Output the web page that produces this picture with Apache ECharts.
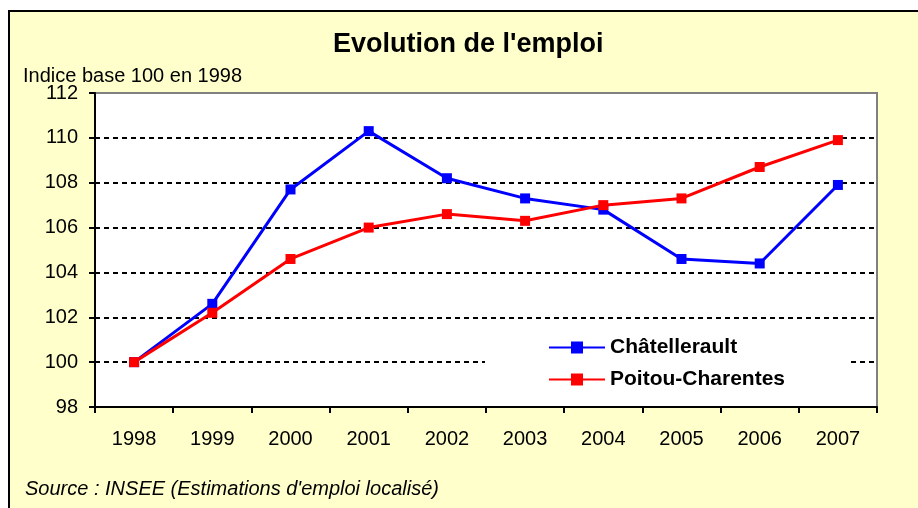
<!DOCTYPE html>
<html>
<head>
<meta charset="utf-8">
<script src="https://cdn.jsdelivr.net/npm/echarts@6/dist/echarts.min.js"></script>
<style>html,body{margin:0;padding:0;background:#fff}#c{width:918px;height:508px}</style>
</head>
<body>
<div id="c"></div>
<script>
var years = ['1998','1999','2000','2001','2002','2003','2004','2005','2006','2007'];
var chatellerault = [100, 102.6, 107.7, 110.3, 108.2, 107.3, 106.8, 104.6, 104.4, 107.9];
var poitouCharentes = [100, 102.2, 104.6, 106.0, 106.6, 106.3, 107.0, 107.3, 108.7, 109.9];
var yTicks = [98, 112, 2];
var seriesNames = ['Châtellerault', 'Poitou-Charentes'];
var titleText = "Evolution de l'emploi";
var yAxisTitle = 'Indice base 100 en 1998';
var sourceText = "Source : INSEE (Estimations d'emploi localisé)";

var F = 'Liberation Sans, Arial, sans-serif';
var chart = echarts.init(document.getElementById('c'), null, {renderer: 'canvas'});
chart.setOption({
  backgroundColor: '#ffffff',
  animation: false,
  title: {
    text: titleText,
    left: 333, top: 31, padding: 0,
    textStyle: {fontFamily: F, fontSize: 27, fontWeight: 'bold', color: '#000'}
  },
  graphic: [
    {type: 'rect', z: -10, silent: true, shape: {x: 9, y: 11, width: 930, height: 520},
     style: {fill: '#FFFFCC', stroke: '#000', lineWidth: 2}},
    {type: 'text', x: 23, y: 76, style: {text: yAxisTitle, font: '20px ' + F, fill: '#000', verticalAlign: 'middle'}},
    {type: 'text', x: 25, y: 489, style: {text: sourceText, font: 'italic 20px ' + F, fill: '#000', verticalAlign: 'middle'}}
  ],
  grid: {left: 95, top: 93, right: 41, bottom: 101, show: true, backgroundColor: '#fff', borderColor: '#808080', borderWidth: 2},
  legend: {
    orient: 'vertical', left: 485, top: 325,
    padding: [12, 63, 11, 63],
    backgroundColor: '#fff',
    itemWidth: 56, itemHeight: 15, itemGap: 11,
    textStyle: {fontFamily: F, fontSize: 21, fontWeight: 'bold', color: '#000'},
    data: seriesNames
  },
  xAxis: {
    type: 'category', data: years, boundaryGap: true,
    axisLine: {lineStyle: {color: '#000', width: 2}},
    axisTick: {show: true, length: 6, lineStyle: {color: '#000', width: 2}},
    axisLabel: {fontFamily: F, fontSize: 20, color: '#000', margin: 22},
    splitLine: {show: false}
  },
  yAxis: {
    type: 'value', min: yTicks[0], max: yTicks[1], interval: yTicks[2],
    axisLine: {show: true, lineStyle: {color: '#000', width: 2}},
    axisTick: {show: true, length: 6, lineStyle: {color: '#000', width: 2}},
    axisLabel: {fontFamily: F, fontSize: 20, color: '#000', margin: 17},
    splitLine: {show: true, showMinLine: false, showMaxLine: false, lineStyle: {color: '#000', width: 2, type: [5, 4]}}
  },
  series: [
    {name: seriesNames[0], type: 'line', data: chatellerault, symbol: 'rect', symbolSize: 10,
     lineStyle: {color: '#0000FF', width: 3}, itemStyle: {color: '#0000FF'}},
    {name: seriesNames[1], type: 'line', data: poitouCharentes, symbol: 'rect', symbolSize: 10,
     lineStyle: {color: '#FF0000', width: 3}, itemStyle: {color: '#FF0000'}}
  ]
});
</script>
</body>
</html>
